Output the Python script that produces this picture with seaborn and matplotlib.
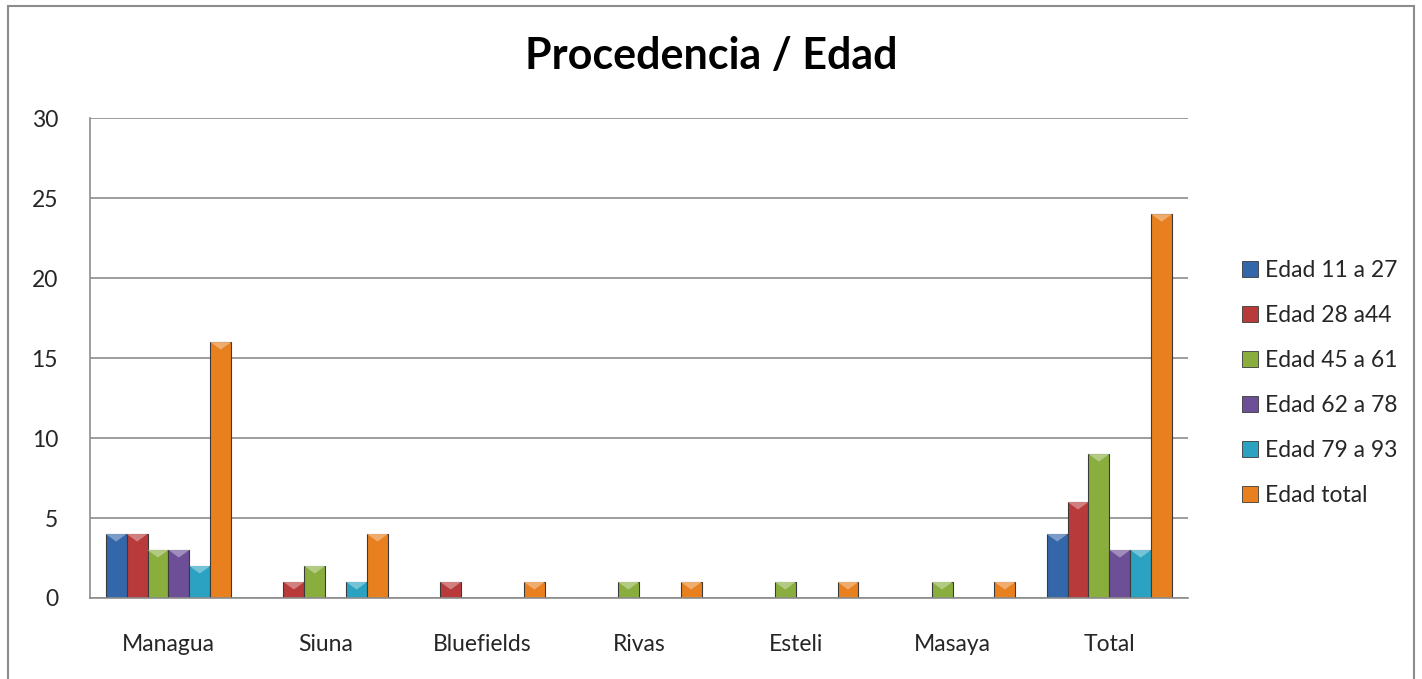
import matplotlib
matplotlib.use("Agg")
import matplotlib.pyplot as plt
import seaborn as sns
import pandas as pd
import numpy as np
from matplotlib.patches import Rectangle, Polygon
from matplotlib.colors import to_rgb

categories = ["Managua", "Siuna", "Bluefields", "Rivas", "Esteli", "Masaya", "Total"]
series = ["Edad 11 a 27", "Edad 28 a44", "Edad 45 a 61", "Edad 62 a 78", "Edad 79 a 93", "Edad total"]
edad_11_27 = [4, 0, 0, 0, 0, 0, 4]
edad_28_44 = [4, 1, 1, 0, 0, 0, 6]
edad_45_61 = [3, 2, 0, 1, 1, 1, 9]
edad_62_78 = [3, 0, 0, 0, 0, 0, 3]
edad_79_93 = [2, 1, 0, 0, 0, 0, 3]
edad_total = [16, 4, 1, 1, 1, 1, 24]
colors = ["#3466AA", "#B83A3A", "#8AAE3E", "#6D4F97", "#2BA2C2", "#E8801F"]

values = [edad_11_27, edad_28_44, edad_45_61, edad_62_78, edad_79_93, edad_total]
rows = []
for s, vals in zip(series, values):
    for c, v in zip(categories, vals):
        rows.append({"Procedencia": c, "Serie": s, "Valor": v})
df = pd.DataFrame(rows)

sns.set_theme(style="white")
plt.rcParams["font.family"] = ["Lato", "DejaVu Sans"]

fig = plt.figure(figsize=(14.22, 6.79), dpi=100)
ax = fig.add_axes([0.0633, 0.1193, 0.772, 0.7067])

sns.barplot(data=df, x="Procedencia", y="Valor", hue="Serie", order=categories,
            hue_order=series, palette=colors, width=0.8, ax=ax, legend=False,
            edgecolor="#3a3a3a", linewidth=0.8, saturation=1)

# bevel-like highlight triangles on top of each bar
fig.canvas.draw()
for patch in list(ax.patches):
    h = patch.get_height()
    if h <= 0:
        continue
    x0 = patch.get_x()
    w = patch.get_width()
    top = patch.get_y() + h
    col = np.array(to_rgb(patch.get_facecolor()))
    light = col + (1 - col) * 0.35
    p_top = ax.transData.transform((x0, top))
    p_down = ax.transData.inverted().transform((p_top[0], p_top[1] - 9))
    dy = min(top - p_down[1], h)
    tri = Polygon([(x0, top), (x0 + w, top), (x0 + w / 2, top - dy)], closed=True,
                  facecolor=light, edgecolor="none", zorder=patch.get_zorder() + 0.1)
    ax.add_patch(tri)

ax.set_ylim(0, 30)
ax.set_yticks([0, 5, 10, 15, 20, 25, 30])
ax.set_xlim(-0.5, len(categories) - 0.5)
ax.yaxis.grid(True, color="#8C8C8C", linewidth=1.2)
ax.set_axisbelow(True)
for side in ["top", "right"]:
    ax.spines[side].set_visible(False)
for side in ["left", "bottom"]:
    ax.spines[side].set_color("#8C8C8C")
    ax.spines[side].set_linewidth(1.2)
ax.tick_params(axis="y", left=False, labelsize=16.5, pad=17)
ax.tick_params(axis="x", bottom=False, labelsize=16.5, pad=20)
ax.set_xlabel("")
ax.set_ylabel("")

fig.text(0.5, 0.918, "Procedencia / Edad", ha="center", va="center",
         fontsize=31, fontweight="bold", color="black")

handles = [Rectangle((0, 0), 1, 1, facecolor=c, edgecolor="#3a3a3a", linewidth=0.6) for c in colors]
fig.legend(handles, series, loc="center left", bbox_to_anchor=(0.859, 0.436),
           frameon=False, fontsize=16.5, handlelength=0.7, handleheight=0.7,
           handletextpad=0.3, labelspacing=1.05)

fig.add_artist(Rectangle((0.0056, -0.01), 0.9888, 1.001, transform=fig.transFigure,
                         fill=False, edgecolor="#8C8C8C", linewidth=1.5))

fig.savefig("out.png", dpi=100)
